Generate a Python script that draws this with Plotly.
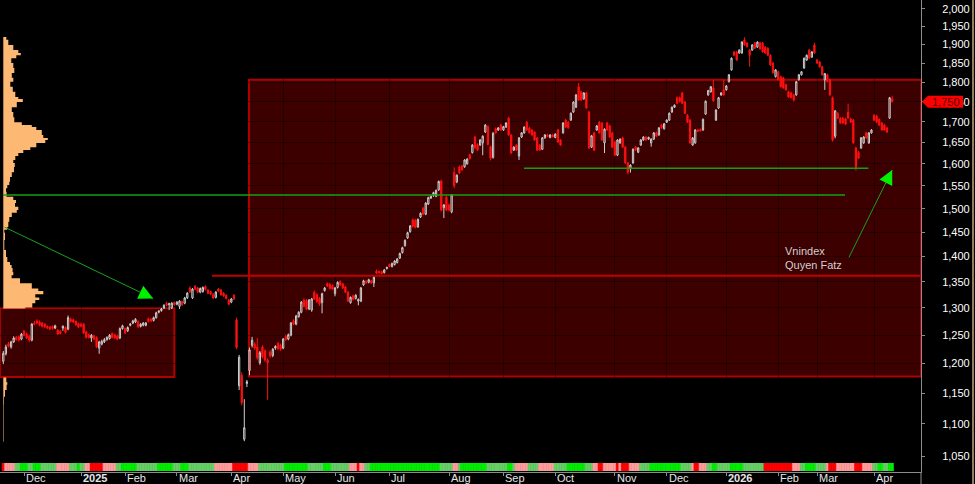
import math
import plotly.graph_objects as go

# ---------------- data ----------------
open_ = [
    1204,1217,1235,1229,1238,1246,1247,1243,1257,1252,
    1248,1241,1272,1276,1274,1272,1270,1266,1265,1266,
    1263,1259,1257,1263,1264,1261,1279,1278,1275,1271,
    1270,1270,1256,1251,1245,1249,1246,1227,1234,1238,
    1242,1244,1253,1251,1249,1245,1262,1262,1258,1268,
    1272,1274,1275,1266,1268,1268,1280,1279,1277,1282,
    1292,1295,1300,1309,1306,1300,1310,1307,1303,1312,
    1309,1319,1338,1319,1341,1338,1330,1331,1341,1334,
    1331,1326,1320,1336,1334,1328,1324,1315,1311,1324,
    1278,1162,1180,1076,1166,1188,1232,1234,1229,1201,
    1229,1222,1206,1220,1214,1227,1235,1232,1227,1248,
    1243,1250,1276,1270,1284,1292,1315,1314,1298,1296,
    1330,1325,1318,1310,1333,1346,1345,1343,1327,1339,
    1350,1346,1340,1330,1310,1323,1318,1313,1313,1344,
    1351,1349,1352,1348,1371,1370,1370,1368,1376,1384,
    1380,1384,1388,1397,1408,1422,1438,1451,1476,1475,
    1461,1482,1501,1488,1510,1523,1528,1527,1541,1561,
    1502,1525,1508,1493,1580,1559,1593,1595,1593,1600,
    1621,1626,1663,1645,1644,1649,1675,1688,1640,1615,
    1683,1680,1692,1680,1687,1709,1668,1632,1644,1618,
    1663,1673,1699,1685,1680,1675,1661,1644,1634,1661,
    1668,1662,1668,1662,1680,1656,1673,1704,1699,1704,
    1724,1736,1788,1775,1757,1772,1724,1639,1673,1680,
    1699,1697,1649,1697,1690,1673,1651,1620,1649,1661,
    1639,1602,1588,1602,1639,1627,1644,1656,1663,1658,
    1649,1658,1673,1668,1692,1683,1699,1704,1724,1736,
    1760,1760,1772,1749,1716,1704,1644,1649,1680,1681,
    1680,1719,1767,1775,1785,1704,1734,1767,1780,1780,
    1801,1832,1880,1880,1877,1877,1913,1904,1885,1885,
    1904,1893,1905,1904,1893,1890,1871,1850,1814,1827,
    1814,1811,1793,1775,1772,1767,1767,1806,1819,1837,
    1858,1885,1866,1899,1858,1853,1840,1806,1819,1806,
    1760,1665,1721,1709,1709,1707,1724,1707,1704,1637,
    1627,1637,1649,1673,1649,1673,1716,1714,1706,1697,
    1692,1685,1709,1757,
]
high = [
    1222,1233,1238,1240,1248,1249,1250,1254,1260,1255,
    1251,1272,1276,1279,1277,1274,1272,1268,1267,1268,
    1269,1261,1259,1268,1266,1286,1282,1280,1277,1273,
    1273,1272,1258,1253,1252,1251,1248,1240,1242,1245,
    1248,1252,1255,1253,1251,1264,1269,1264,1266,1272,
    1278,1281,1277,1272,1274,1274,1282,1281,1284,1293,
    1296,1300,1307,1312,1310,1311,1312,1313,1315,1314,
    1321,1330,1341,1338,1344,1340,1339,1341,1343,1336,
    1333,1328,1332,1338,1336,1330,1326,1317,1319,1326,
    1282,1215,1185,1140,1172,1228,1247,1237,1245,1222,
    1232,1225,1209,1223,1227,1232,1238,1235,1245,1251,
    1253,1274,1279,1287,1294,1313,1318,1317,1317,1319,
    1333,1328,1321,1329,1340,1349,1348,1345,1340,1351,
    1353,1348,1342,1332,1322,1325,1326,1318,1340,1354,
    1353,1356,1354,1361,1374,1372,1372,1375,1380,1386,
    1388,1393,1397,1408,1420,1435,1451,1465,1479,1478,
    1479,1492,1504,1514,1526,1529,1537,1542,1562,1564,
    1510,1528,1511,1532,1592,1576,1596,1598,1611,1613,
    1624,1646,1666,1648,1658,1667,1694,1691,1643,1675,
    1686,1687,1695,1690,1699,1712,1670,1641,1646,1663,
    1675,1689,1702,1688,1682,1677,1663,1646,1663,1670,
    1671,1670,1671,1672,1683,1658,1699,1707,1702,1723,
    1751,1769,1798,1778,1774,1775,1727,1668,1676,1692,
    1702,1700,1684,1700,1693,1676,1654,1658,1660,1664,
    1642,1604,1599,1636,1642,1639,1658,1665,1666,1664,
    1660,1675,1676,1687,1695,1697,1706,1723,1738,1743,
    1763,1763,1775,1752,1719,1707,1663,1682,1683,1684,
    1708,1753,1780,1790,1806,1731,1762,1774,1806,1792,
    1821,1865,1883,1883,1887,1909,1920,1907,1888,1901,
    1907,1909,1908,1907,1896,1893,1874,1853,1834,1830,
    1817,1814,1796,1778,1775,1770,1803,1821,1829,1865,
    1873,1888,1882,1905,1861,1856,1843,1824,1822,1809,
    1763,1729,1724,1712,1712,1710,1745,1710,1707,1640,
    1630,1663,1665,1676,1675,1682,1719,1717,1709,1700,
    1695,1688,1762,1765,
]
low = [
    1199,1214,1228,1226,1236,1240,1239,1241,1248,1243,
    1238,1239,1268,1270,1266,1264,1263,1261,1259,1260,
    1261,1250,1251,1258,1253,1259,1273,1272,1267,1263,
    1264,1252,1244,1244,1238,1241,1227,1217,1232,1236,
    1240,1242,1244,1243,1241,1243,1260,1252,1256,1266,
    1270,1272,1263,1264,1266,1266,1273,1274,1275,1280,
    1290,1293,1298,1303,1296,1298,1304,1305,1298,1304,
    1307,1317,1328,1317,1334,1328,1328,1329,1333,1326,
    1324,1317,1318,1330,1323,1321,1316,1305,1309,1315,
    1225,1155,1130,1073,1160,1180,1228,1224,1207,1198,
    1209,1203,1139,1210,1211,1224,1223,1222,1225,1240,
    1241,1248,1268,1268,1282,1290,1301,1296,1296,1293,
    1315,1310,1304,1290,1331,1340,1335,1334,1322,1337,
    1342,1336,1328,1311,1308,1314,1316,1305,1311,1342,
    1346,1347,1346,1340,1365,1366,1364,1366,1374,1378,
    1378,1382,1386,1395,1406,1420,1436,1449,1460,1458,
    1459,1480,1486,1486,1508,1521,1526,1525,1539,1494,
    1480,1495,1494,1490,1545,1556,1577,1584,1591,1598,
    1610,1624,1635,1630,1642,1620,1673,1643,1608,1612,
    1671,1678,1678,1678,1685,1666,1623,1630,1630,1609,
    1661,1671,1678,1671,1666,1654,1630,1630,1632,1659,
    1662,1660,1662,1660,1649,1642,1671,1685,1683,1702,
    1722,1734,1752,1752,1755,1732,1635,1637,1630,1678,
    1671,1654,1625,1678,1661,1637,1618,1618,1647,1637,
    1600,1576,1580,1600,1630,1625,1642,1654,1654,1656,
    1640,1656,1663,1666,1683,1681,1697,1702,1722,1734,
    1744,1748,1744,1719,1697,1647,1642,1647,1675,1676,
    1678,1717,1765,1773,1750,1702,1732,1765,1765,1778,
    1799,1830,1869,1856,1875,1875,1897,1892,1840,1883,
    1888,1891,1886,1878,1875,1869,1843,1822,1812,1804,
    1786,1783,1778,1760,1758,1750,1765,1804,1817,1835,
    1856,1861,1864,1875,1848,1838,1817,1780,1799,1765,
    1652,1660,1707,1695,1695,1692,1707,1697,1647,1585,
    1611,1635,1647,1659,1647,1671,1702,1697,1690,1678,
    1678,1673,1707,1748,
]
close = [
    1218,1229,1230,1238,1245,1242,1241,1252,1250,1245,
    1241,1270,1270,1272,1268,1266,1265,1263,1261,1262,
    1267,1252,1253,1266,1255,1282,1275,1274,1269,1265,
    1266,1254,1246,1246,1250,1243,1229,1238,1239,1242,
    1246,1250,1246,1245,1243,1262,1267,1254,1264,1270,
    1276,1279,1265,1270,1272,1272,1275,1276,1282,1291,
    1294,1298,1305,1305,1308,1309,1306,1311,1313,1306,
    1319,1328,1330,1336,1336,1330,1337,1339,1335,1328,
    1326,1319,1330,1332,1325,1323,1318,1307,1317,1317,
    1228,1211,1134,1094,1169,1224,1241,1227,1210,1219,
    1212,1206,1201,1213,1225,1230,1226,1225,1243,1242,
    1251,1272,1270,1285,1292,1311,1303,1298,1315,1317,
    1317,1312,1308,1327,1338,1342,1337,1336,1338,1349,
    1344,1338,1330,1313,1320,1316,1324,1316,1338,1352,
    1348,1354,1348,1359,1367,1368,1366,1373,1378,1380,
    1386,1391,1395,1406,1418,1433,1449,1463,1462,1460,
    1477,1490,1488,1512,1524,1527,1535,1540,1560,1497,
    1508,1497,1497,1530,1550,1574,1579,1586,1609,1611,
    1612,1644,1637,1632,1656,1665,1692,1645,1613,1672,
    1673,1685,1680,1688,1697,1668,1625,1639,1632,1661,
    1673,1687,1680,1673,1668,1656,1632,1632,1661,1668,
    1664,1668,1664,1670,1651,1644,1697,1687,1685,1721,
    1749,1767,1754,1754,1772,1734,1637,1666,1632,1690,
    1673,1656,1682,1680,1663,1639,1620,1656,1658,1639,
    1602,1581,1597,1634,1632,1637,1656,1663,1656,1662,
    1658,1673,1665,1685,1685,1695,1704,1721,1736,1741,
    1746,1750,1746,1721,1699,1649,1661,1680,1677,1678,
    1706,1751,1778,1788,1752,1729,1760,1772,1767,1790,
    1819,1863,1871,1858,1885,1907,1899,1894,1871,1899,
    1890,1907,1888,1880,1877,1871,1845,1824,1832,1806,
    1788,1785,1780,1762,1760,1754,1801,1819,1827,1863,
    1871,1863,1880,1877,1850,1840,1819,1822,1801,1767,
    1656,1727,1709,1697,1697,1694,1709,1699,1649,1592,
    1613,1661,1663,1661,1673,1680,1704,1699,1692,1680,
    1680,1675,1760,1750,
]

# trading-day index of the first session of each month, and its label
month_tick_idx = [8, 30, 47, 67, 88, 108, 128, 149, 172, 193, 213, 236, 256, 279, 299, 314, 336]
month_tick_text = ["Dec", "<b>2025</b>", "Feb", "Mar", "Apr", "May", "Jun", "Jul", "Aug",
                   "Sep", "Oct", "Nov", "Dec", "<b>2026</b>", "Feb", "Mar", "Apr"]

price_ticks = [1050, 1100, 1150, 1200, 1250, 1300, 1350, 1400, 1450, 1500, 1550,
               1600, 1650, 1700, 1750, 1800, 1850, 1900, 1950, 2000]

# colour strip under the candles: (state, number of sessions)
strip_runs = [
    ("R", 1), ("P", 4), ("g", 2), ("G", 3), ("g", 2), ("G", 3), ("g", 6), ("P", 5), ("g", 3), ("G", 1),
    ("g", 2), ("P", 2), ("R", 5), ("P", 5), ("g", 2), ("G", 6), ("g", 8), ("G", 6), ("g", 3), ("G", 3),
    ("g", 10), ("P", 7), ("R", 6), ("P", 4), ("g", 10), ("G", 9), ("g", 6), ("G", 3), ("g", 7), ("P", 3),
    ("R", 1), ("P", 2), ("g", 2), ("G", 27), ("g", 5), ("P", 2), ("g", 1), ("G", 10), ("g", 8), ("G", 2),
    ("g", 1), ("P", 5), ("g", 4), ("P", 6), ("g", 5), ("G", 7), ("g", 3), ("P", 2), ("R", 2), ("P", 5),
    ("R", 1), ("P", 1), ("R", 3), ("P", 4), ("g", 4), ("G", 12), ("g", 4), ("P", 1), ("R", 2), ("P", 3),
    ("g", 2), ("G", 2), ("g", 5), ("G", 5), ("g", 8), ("R", 11), ("P", 3), ("g", 2), ("G", 4), ("g", 4),
    ("P", 1), ("R", 3), ("P", 7), ("R", 3), ("P", 4), ("g", 2), ("G", 2), ("g", 2), ("G", 2),
]
strip_palette = {"G": "#00ee00", "g": "#66cf66", "P": "#ff9c9c", "R": "#ff0000"}

# volume-by-price profile (price level, relative size)
profile_upper_price = [1921, 1913, 1899, 1885, 1877, 1871, 1863, 1850, 1837, 1824,
                       1811, 1801, 1788, 1775, 1762, 1757, 1749, 1736, 1724, 1711,
                       1699, 1692, 1687, 1680, 1668, 1661, 1656, 1649, 1639, 1632,
                       1625, 1618, 1609, 1602, 1593, 1581, 1570, 1559, 1552, 1545,
                       1537, 1526, 1519, 1512, 1504, 1497, 1491, 1482, 1472, 1461,
                       1455, 1449, 1434, 1424, 1413, 1399, 1389, 1383, 1377, 1369,
                       1363, 1357, 1347, 1337, 1332, 1326, 1320, 1315, 1309, 1301, 1299]
profile_upper_size = [3, 5, 10, 15, 17.5, 13, 8, 10, 11, 8.5,
                      10, 7, 9.5, 12, 15, 19.5, 13.5, 8.5, 10, 11,
                      18.5, 28.5, 33, 38.5, 40, 44.5, 42, 33, 27, 20,
                      15, 12, 10, 11.5, 10.7, 8.5, 6.7, 6, 4, 2.7,
                      3.3, 10, 12.7, 11.7, 15, 13.5, 8.5, 6, 5, 4,
                      1, 1.7, 1, 1, 2.7, 4, 6.7, 8.3, 9.3, 10,
                      8.3, 16.7, 28.5, 35, 40, 32, 36, 32, 29, 22, 0]
profile_lower_price = [1176, 1168, 1164, 1155, 1144, 1131, 1075, 1072]
profile_lower_size = [3, 4, 3.3, 1.7, 0.7, 0.5, 0.5, 0]

# drawn boxes / levels (trading-day index, price)
small_box = {"x0": -1.3, "x1": 66.0, "lo": 1177, "hi": 1300}
big_box = {"x0": 94.8, "lo": 1178, "hi": 1806}
red_level = {"x0": 80.5, "y": 1362}
green_levels = [{"x0": -0.1, "x1": 324.8, "y": 1530}, {"x0": 200.9, "x1": 333.8, "y": 1590}]
arrow_a = {"x": 57.8, "y": 1318, "ax": -150, "ay": -72}
arrow_b = {"x": 343.0, "y": 1586, "ax": -44, "ay": 89}
note = {"x": 300.9, "y": 1397, "text": "Vnindex<br>Quyen Fatz"}

# ---------------- figure ----------------
assert len(open_) == len(high) == len(low) == len(close) == sum(n for _, n in strip_runs)
N = len(close)
idx = list(range(N))
x_range = [-1.273, 354.12]
y_range = [math.log10(1026.4), math.log10(2026.0)]
FONT = "Liberation Sans, Arial, sans-serif"

strip_colors = []
for code, n in strip_runs:
    strip_colors += [strip_palette[code]] * n

fig = go.Figure()

# volume profile (pixel-like units on an overlaid axis)
for pp, ps in ((profile_upper_price, profile_upper_size), (profile_lower_price, profile_lower_size)):
    fig.add_trace(go.Scatter(
        x=ps, y=pp, xaxis="x2", yaxis="y", mode="lines",
        line=dict(width=0, shape="vh", color="#fdb874"),
        fill="tozerox", fillcolor="#fdb874", hoverinfo="skip", showlegend=False))

fig.add_trace(go.Candlestick(
    x=idx, open=open_, high=high, low=low, close=close,
    increasing=dict(line=dict(color="#cfcfcf", width=1), fillcolor="rgba(0,0,0,0)"),
    decreasing=dict(line=dict(color="#ff1010", width=1), fillcolor="#ff1010"),
    whiskerwidth=0, hoverinfo="skip", showlegend=False))

fig.add_trace(go.Bar(
    x=idx, y=[1] * N, width=1, xaxis="x", yaxis="y3",
    marker=dict(color=strip_colors, line=dict(width=0.6, color=strip_colors)),
    hoverinfo="skip", showlegend=False))

shapes = []
# boxes
shapes.append(dict(type="rect", xref="x", yref="y", layer="below",
                   x0=small_box["x0"], x1=small_box["x1"], y0=small_box["lo"], y1=small_box["hi"],
                   fillcolor="#3c0000", line=dict(color="#b00000", width=2)))
shapes.append(dict(type="rect", xref="x", yref="y", layer="below",
                   x0=big_box["x0"], x1=x_range[1], y0=big_box["lo"], y1=big_box["hi"],
                   fillcolor="#3c0000", line=dict(color="#b00000", width=2)))
# levels
shapes.append(dict(type="line", xref="x", yref="y", layer="above",
                   x0=red_level["x0"], x1=x_range[1], y0=red_level["y"], y1=red_level["y"],
                   line=dict(color="#c00000", width=2)))
for g in green_levels:
    shapes.append(dict(type="line", xref="x", yref="y", layer="above",
                       x0=g["x0"], x1=g["x1"], y0=g["y"], y1=g["y"],
                       line=dict(color="#14a014", width=1.5)))
# axis line continuing to the bottom, and right border
shapes.append(dict(type="line", xref="paper", yref="paper", x0=1, x1=1, y0=-0.03, y1=0,
                   line=dict(color="#8c8c8c", width=1)))
shapes.append(dict(type="line", xref="paper", yref="paper", x0=973 / 921, x1=973 / 921, y0=-0.03, y1=1,
                   line=dict(color="#bfa880", width=1.5)))
# last-price tag
shapes.append(dict(type="path", xref="paper", xsizemode="pixel", xanchor=1,
                   yref="y", ysizemode="pixel", yanchor=close[-1],
                   path="M 1,0 L 7,6 L 42,6 L 42,-6 L 7,-6 Z",
                   fillcolor="#ff0000", line=dict(width=0), layer="above"))

annotations = []
for ti, tt in zip(month_tick_idx, month_tick_text):
    annotations.append(dict(x=ti, xref="x", y=-0.0117, yref="paper", text=tt, showarrow=False,
                            xanchor="left", yanchor="middle", xshift=0,
                            font=dict(family=FONT, size=11, color="#e6e6e6")))
annotations.append(dict(x=1, xref="paper", y=math.log10(close[-1]), yref="y", text=f"{close[-1]:,}",
                        showarrow=False, xanchor="left", yanchor="middle", xshift=9,
                        font=dict(family=FONT, size=11, color="#5a0000")))
annotations.append(dict(x=note["x"], xref="x", y=math.log10(note["y"]), yref="y", text=note["text"],
                        showarrow=False, xanchor="left", yanchor="middle", align="left",
                        font=dict(family=FONT, size=11, color="#cfcfcf")))
for a in (arrow_a, arrow_b):
    annotations.append(dict(x=a["x"], xref="x", y=math.log10(a["y"]), yref="y", text="",
                            showarrow=True, ax=a["ax"], ay=a["ay"], arrowhead=0,
                            arrowwidth=1, arrowcolor="#1aa01a", standoff=0))
    L = math.hypot(a["ax"], a["ay"])
    annotations.append(dict(x=a["x"], xref="x", y=math.log10(a["y"]), yref="y", text="",
                            showarrow=True, ax=a["ax"] / L * 12, ay=a["ay"] / L * 12, arrowhead=2,
                            arrowsize=2.2, arrowwidth=1.3, arrowcolor="#00f000", standoff=0))

grid = "rgba(0,0,0,0.38)"
fig.update_layout(
    width=975, height=484,
    margin=dict(l=0, r=54, t=0, b=12, pad=0),
    paper_bgcolor="#000000", plot_bgcolor="#000000",
    font=dict(family=FONT, size=11, color="#ffffff"),
    showlegend=False, hovermode=False, dragmode=False,
    xaxis=dict(range=x_range, domain=[0, 1], anchor="y", showline=True, linecolor="#8c8c8c",
               linewidth=1, ticks="outside", ticklen=3, tickcolor="#8c8c8c",
               tickvals=month_tick_idx, showticklabels=False, showgrid=True, gridcolor=grid,
               gridwidth=1, zeroline=False, rangeslider=dict(visible=False), fixedrange=True),
    xaxis2=dict(range=[-3.3, 917.7], overlaying="x", visible=False, fixedrange=True),
    yaxis=dict(type="log", range=y_range, domain=[0, 1], side="right", anchor="x",
               showline=True, linecolor="#8c8c8c", linewidth=1, ticks="outside", ticklen=3,
               tickcolor="#8c8c8c", tickvals=price_ticks, tickformat=",",
               tickfont=dict(family=FONT, size=11, color="#ffffff"), ticklabelstandoff=15,
               showgrid=True, gridcolor=grid, gridwidth=1, zeroline=False, fixedrange=True),
    yaxis3=dict(domain=[1 / 472, 9 / 472], range=[0, 1], anchor="x", visible=False, fixedrange=True),
    shapes=shapes, annotations=annotations,
)

fig.write_html(
    "out.html",
    config={"displayModeBar": False, "staticPlot": True},
    post_script="document.body.style.margin='0px';document.body.style.padding='0px';"
                "document.documentElement.style.overflow='hidden';",
)
